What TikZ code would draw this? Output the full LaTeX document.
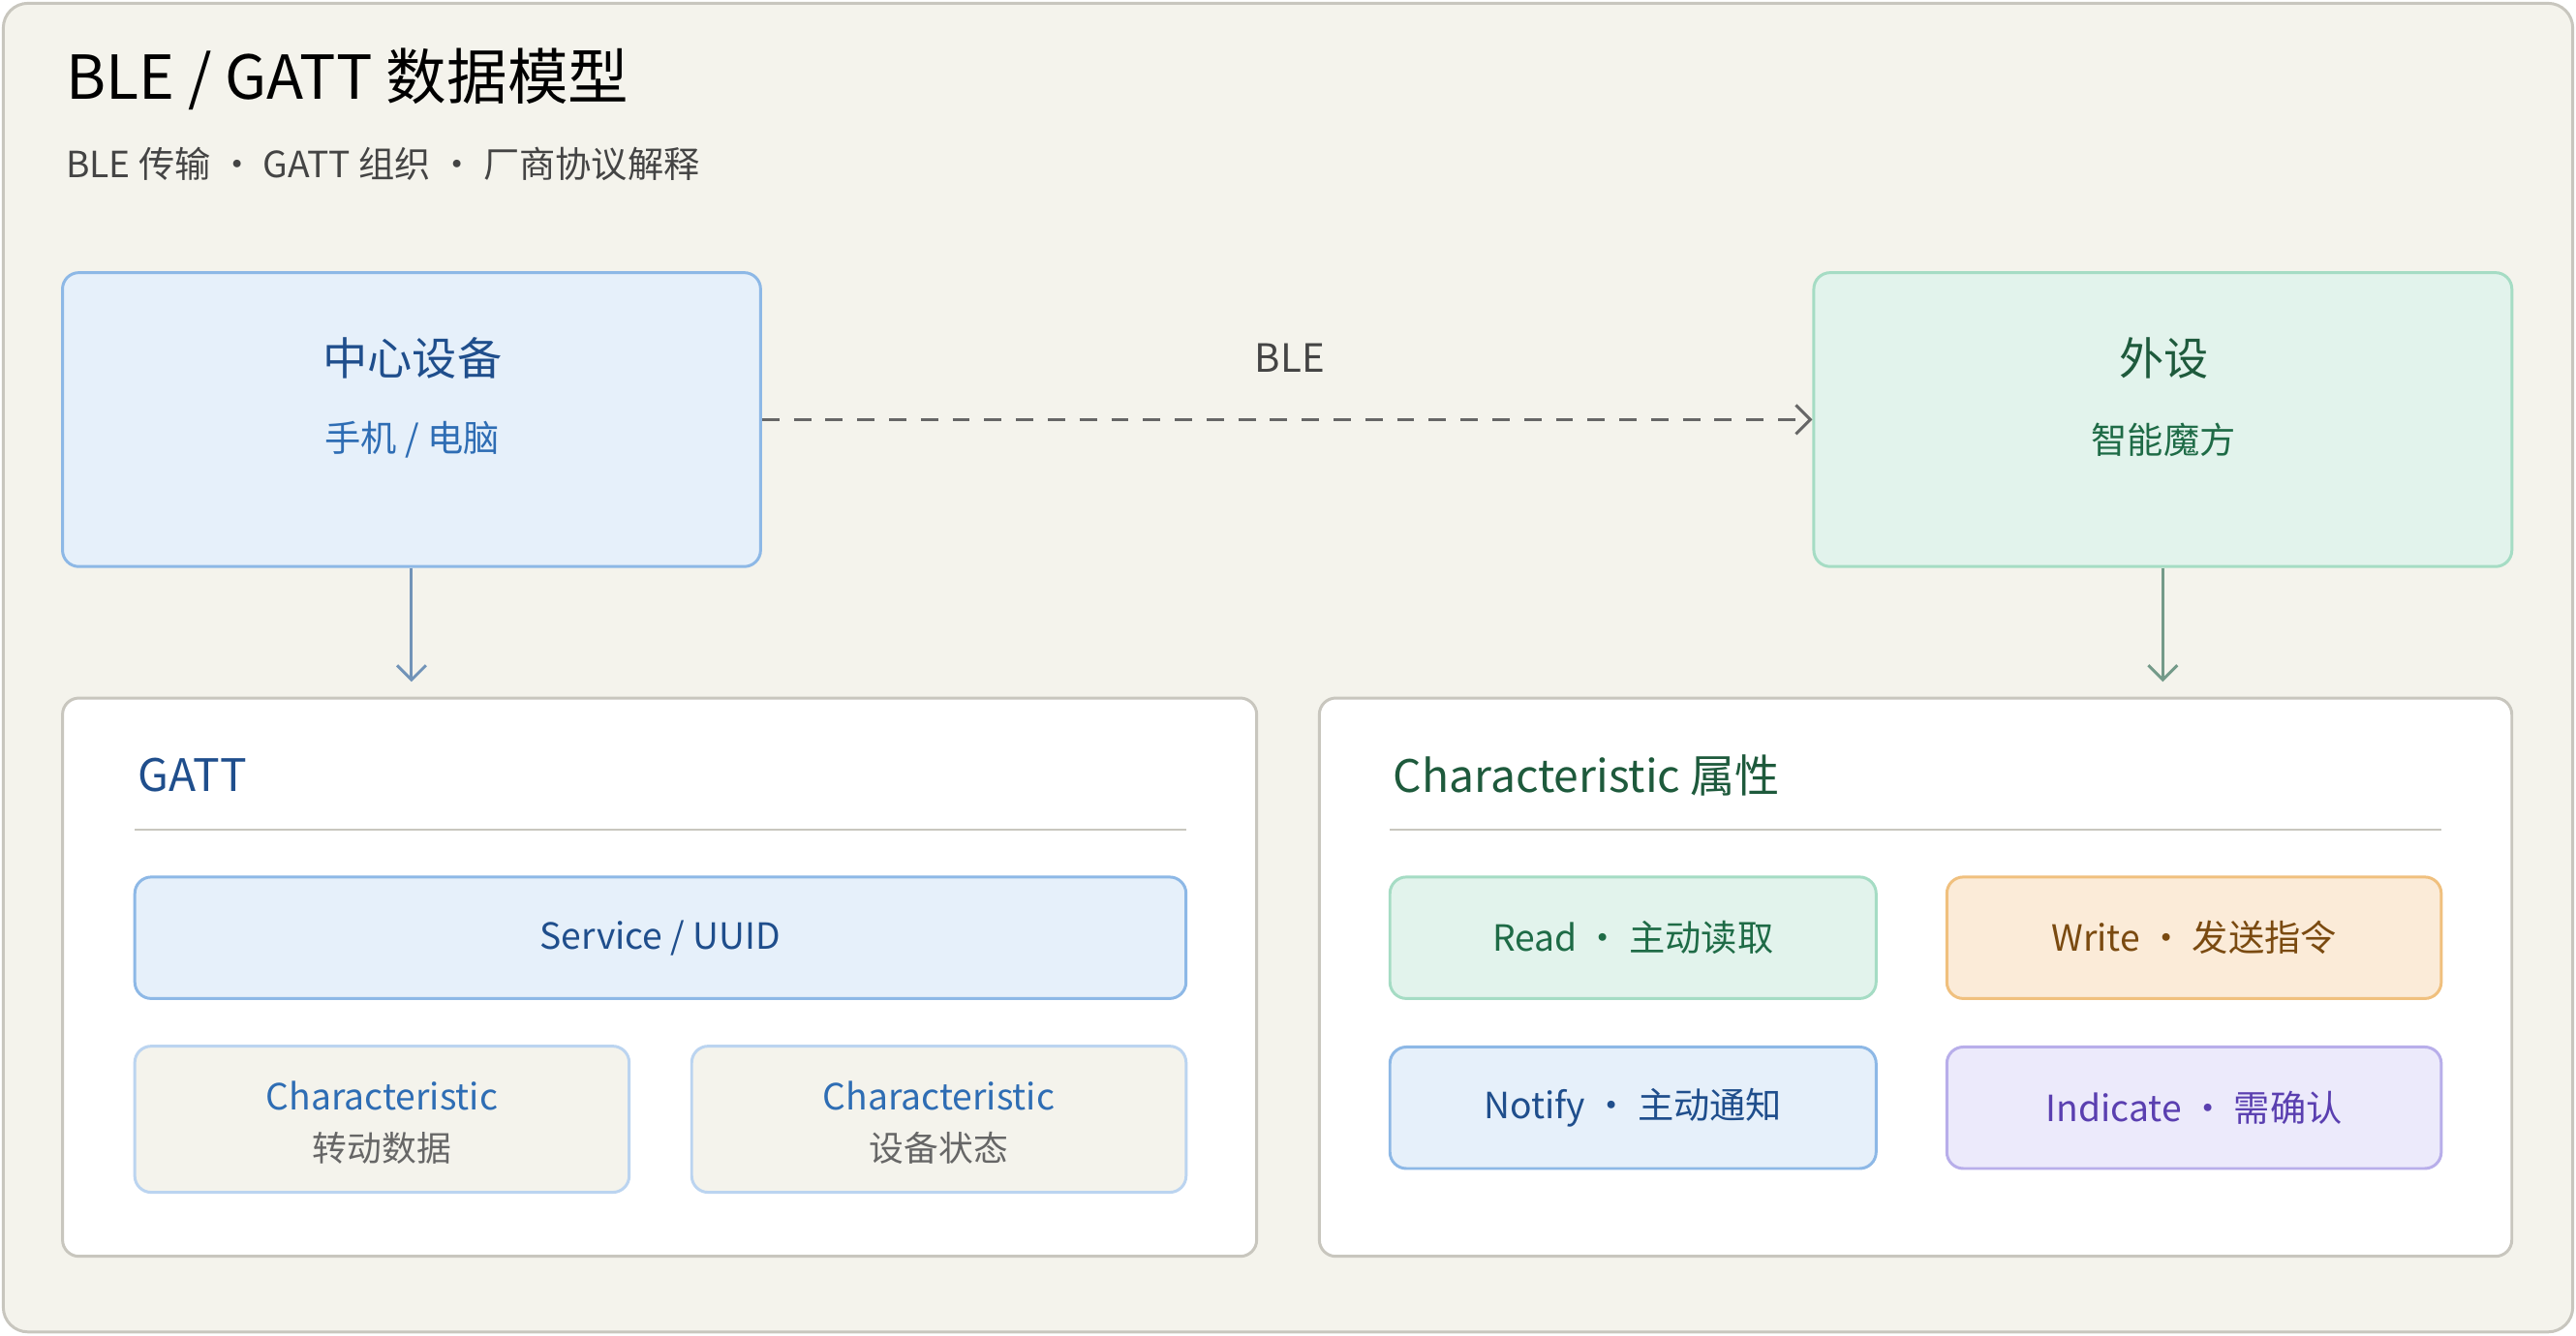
\documentclass[tikz,border=0pt]{standalone}
\usepackage{fontspec}
\setmainfont{Noto Sans CJK SC}
\usetikzlibrary{arrows.meta}
\definecolor{bgpaper}{HTML}{F4F3EC}
\definecolor{edgegray}{HTML}{C8C6BE}
\definecolor{bluefill}{HTML}{E6F0FA}
\definecolor{blueline}{HTML}{8DB8E6}
\definecolor{bluedark}{HTML}{1F4E8C}
\definecolor{bluetext}{HTML}{2E6DB4}
\definecolor{greenfill}{HTML}{E2F3EC}
\definecolor{greenline}{HTML}{A5DCC4}
\definecolor{greendark}{HTML}{1E5A3C}
\definecolor{greentext}{HTML}{1E6B46}
\definecolor{orangefill}{HTML}{FBEBD8}
\definecolor{orangeline}{HTML}{F0C07E}
\definecolor{orangetext}{HTML}{7A4A10}
\definecolor{purplefill}{HTML}{ECEAFB}
\definecolor{purpleline}{HTML}{B8AEEA}
\definecolor{purpletext}{HTML}{5A3FB0}
\definecolor{grayink}{HTML}{444444}
\tikzset{
  box/.style={draw, rounded corners=0.2cm, line width=1pt, inner sep=0pt},
  panel/.style={box, fill=white, draw=edgegray},
  chip/.style={box, minimum height=1.48cm, font=\fontsize{12.5}{15}\selectfont}
}
\begin{document}
\begin{tikzpicture}[x=0.02cm, y=-0.02cm, >={Straight Barb[length=5pt]}]
        % Background
        \draw[fill=bgpaper, draw=edgegray, rounded corners=0.3cm, line width=1pt] (2,2) rectangle (1566,811);
        \useasboundingbox (0,0) rectangle (1568,813);

        % Title
        \node[anchor=west, font=\fontsize{21}{24}\selectfont] (title) at (34,48) {BLE / GATT 数据模型};
        \node[anchor=west, font=\fontsize{12.5}{15}\selectfont, text=grayink] (subtitle) at (34,100) {BLE 传输 · GATT 组织 · 厂商协议解释};

        % Devices
        \node[box, fill=bluefill, draw=blueline, minimum width=8.5cm, minimum height=3.58cm] (central) at (250.5,255.5) {};
        \node[font=\fontsize{15.5}{18}\selectfont, text=bluedark] (centralname) at (251,218) {中心设备};
        \node[font=\fontsize{12.5}{15}\selectfont, text=bluetext] (centralsub) at (251,268) {手机 / 电脑};
        \node[box, fill=greenfill, draw=greenline, minimum width=8.5cm, minimum height=3.58cm] (periph) at (1316.5,255.5) {};
        \node[font=\fontsize{15.5}{18}\selectfont, text=greendark] (periphname) at (1317,218) {外设};
        \node[font=\fontsize{12.5}{15}\selectfont, text=greentext] (periphsub) at (1317,268) {智能魔方};

        % Link
        \node[font=\fontsize{13.5}{16}\selectfont, text=grayink] (ble) at (785,218) {BLE};
        \draw[->, dashed, gray!80!black, line width=1pt, dash pattern=on 6pt off 5pt] (central.east) -- (periph.west);

        % Panels
        \node[panel, minimum width=14.54cm, minimum height=6.8cm] (gatt) at (401.5,595) {};
        \node[panel, minimum width=14.52cm, minimum height=6.8cm] (props) at (1166,595) {};
        \draw[->, blueline!80!black, line width=1pt, shorten >=0.18cm] (central.south) -- (gatt.north -| central.south);
        \draw[->, greenline!70!black, line width=1pt, shorten >=0.18cm] (periph.south) -- (props.north -| periph.south);

        % GATT panel
        \node[anchor=west, font=\fontsize{15.5}{18}\selectfont, text=bluedark] (gatthead) at (78,472) {GATT};
        \draw[edgegray, line width=0.6pt] (82,505) -- (722,505);
        \node[chip, fill=bluefill, draw=blueline, minimum width=12.8cm, text=bluedark] (service) at (402,571) {Service / UUID};
        \node[chip, fill=bgpaper, draw=blueline!60, minimum width=6.02cm, minimum height=1.78cm] (charA) at (232.5,681.5) {};
        \node[font=\fontsize{12.5}{15}\selectfont, text=bluetext] (charAname) at (232.5,667) {Characteristic};
        \node[font=\fontsize{12}{15}\selectfont, text=gray!80!black] (charAsub) at (232.5,699) {转动数据};
        \node[chip, fill=bgpaper, draw=blueline!60, minimum width=6.02cm, minimum height=1.78cm] (charB) at (571.5,681.5) {};
        \node[font=\fontsize{12.5}{15}\selectfont, text=bluetext] (charBname) at (571.5,667) {Characteristic};
        \node[font=\fontsize{12}{15}\selectfont, text=gray!80!black] (charBsub) at (571.5,699) {设备状态};

        % Properties panel
        \node[anchor=west, font=\fontsize{15.5}{18}\selectfont, text=greendark] (propshead) at (842,472) {Characteristic 属性};
        \draw[edgegray, line width=0.6pt] (846,505) -- (1486,505);
        \node[chip, fill=greenfill, draw=greenline, minimum width=5.92cm, text=greentext] (read) at (994,571) {Read · 主动读取};
        \node[chip, fill=orangefill, draw=orangeline, minimum width=6.02cm, text=orangetext] (write) at (1335.5,571) {Write · 发送指令};
        \node[chip, fill=bluefill, draw=blueline, minimum width=5.92cm, text=bluedark] (notify) at (994,674.5) {Notify · 主动通知};
        \node[chip, fill=purplefill, draw=purpleline, minimum width=6.02cm, text=purpletext] (indicate) at (1335.5,674.5) {Indicate · 需确认};
    \end{tikzpicture}
\end{document}
